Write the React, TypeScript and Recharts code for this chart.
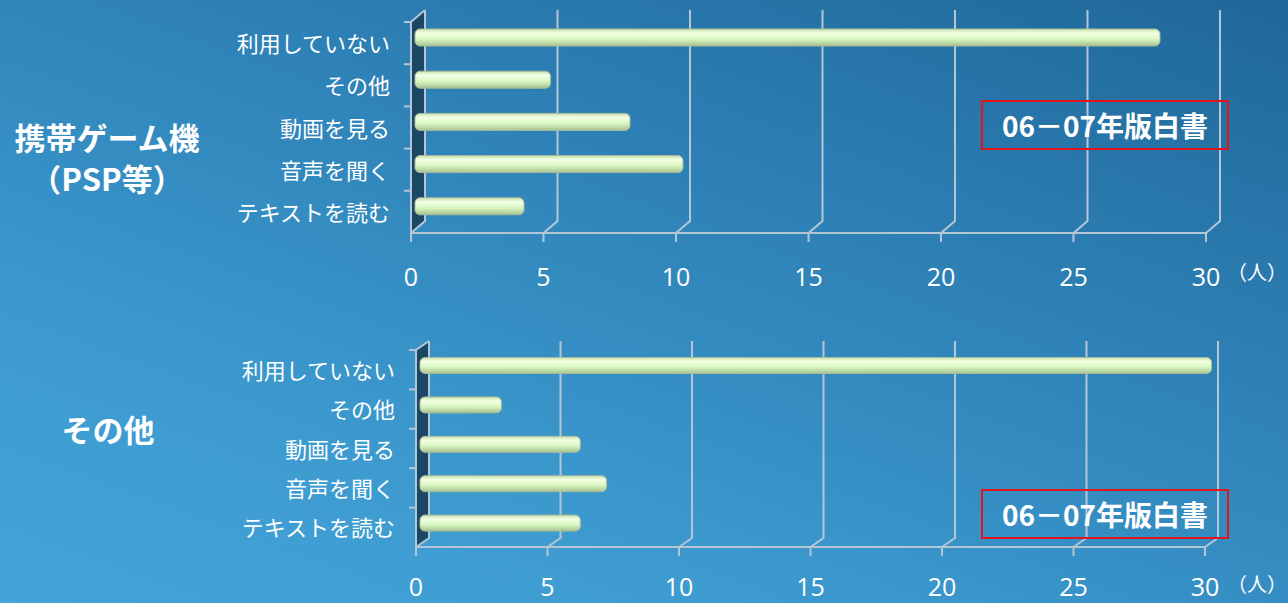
import React from 'react';
import { BarChart, Bar, XAxis, YAxis, CartesianGrid } from 'recharts';

const categories = ['利用していない', 'その他', '動画を見る', '音声を聞く', 'テキストを読む'];
const gameValues = [28, 5, 8, 10, 4];
const otherValues = [30, 3, 6, 7, 6];
const xTicks = [0, 5, 10, 15, 20, 25, 30];

const gameData = categories.map((name, i) => ({ name, value: gameValues[i] }));
const otherData = categories.map((name, i) => ({ name, value: otherValues[i] }));

const LINE = '#b4c6d6';
const FONT = '"Noto Sans CJK JP", "Open Sans", sans-serif';

interface PanelProps {
  data: { name: string; value: number }[];
  top: number;
  height: number;
  plotTop: number;
  plotLeft: number;
  plotRight: number;
  plotBottom: number;
  dx: number;
  dy: number;
  barSize: number;
  labelGap: number;
  gid: string;
}

const Panel: React.FC<PanelProps> = ({
  data, top, height, plotTop, plotLeft, plotRight, plotBottom, dx, dy, barSize, labelGap, gid,
}) => {
  const grid = (p: any) => {
    const { x1, y1, y2 } = p;
    const isLeft = Math.abs(x1 - plotLeft) < 1;
    const band = (y2 - y1) / categories.length;
    return (
      <g key={p.key}>
        {isLeft && (
          <>
            <path
              d={`M${x1},${y1} L${x1 + dx},${y1 + dy} L${x1 + dx},${y2 + dy} L${x1},${y2} Z`}
              fill="#1b4766"
            />
            <path d={`M${x1},${y2} L${x1},${y1} L${x1 + dx},${y1 + dy}`} stroke={LINE} strokeWidth={2} fill="none" />
            {categories.map((_, k) => (
              <line key={k} x1={x1 - 7} x2={x1} y1={y1 + k * band} y2={y1 + k * band} stroke={LINE} strokeWidth={2} />
            ))}
          </>
        )}
        <path
          d={`M${x1},${y2} L${x1 + dx},${y2 + dy} L${x1 + dx},${y1 + dy}`}
          stroke={LINE}
          strokeWidth={2}
          fill="none"
        />
      </g>
    );
  };

  const barShape = (p: any) => {
    const { x, y, width, height: h } = p;
    const bx = x + 4;
    const bw = width + dx / 2 - 4;
    const by = y + dy / 2;
    return (
      <rect x={bx} y={by} width={Math.max(bw, 0)} height={h} rx={5} ry={5} fill={`url(#${gid})`} stroke="#a9b99a" strokeWidth={1} />
    );
  };

  const yTick = (p: any) => (
    <text
      x={plotLeft - 21}
      y={p.y - 1}
      textAnchor="end"
      dominantBaseline="central"
      fill="#ffffff"
      fontSize={22}
      fontFamily={FONT}
    >
      {p.payload.value}
    </text>
  );

  const xTick = (p: any) => (
    <text
      x={p.x}
      y={plotBottom + labelGap}
      textAnchor="middle"
      dominantBaseline="central"
      fill="#ffffff"
      fontSize={25}
      fontFamily='"Open Sans", sans-serif'
    >
      {p.payload.value}
    </text>
  );

  return (
    <div style={{ position: 'absolute', left: 0, top, width: 1288, height }}>
      <BarChart
        width={1288}
        height={height}
        data={data}
        layout="vertical"
        margin={{ top: plotTop, right: 1288 - plotRight, bottom: 0, left: 0 }}
        barSize={barSize}
      >
        <defs>
          <linearGradient id={gid} x1="0" y1="0" x2="0" y2="1">
            <stop offset="0%" stopColor="#c8e2b0" />
            <stop offset="25%" stopColor="#f2ffe4" />
            <stop offset="60%" stopColor="#d8f6bf" />
            <stop offset="100%" stopColor="#a6c293" />
          </linearGradient>
        </defs>
        <CartesianGrid horizontal={false} vertical={grid} />
        <XAxis
          type="number"
          domain={[0, 30]}
          ticks={xTicks}
          interval={0}
          height={height - plotBottom}
          axisLine={{ stroke: LINE, strokeWidth: 2 }}
          tickLine={{ stroke: LINE, strokeWidth: 2 }}
          tickSize={9}
          tick={xTick}
        />
        <YAxis
          type="category"
          dataKey="name"
          width={plotLeft}
          axisLine={false}
          tickLine={false}
          tick={yTick}
          interval={0}
        />
        <Bar dataKey="value" shape={barShape} isAnimationActive={false} />
      </BarChart>
    </div>
  );
};

const sideLabel: React.CSSProperties = {
  position: 'absolute',
  color: '#ffffff',
  fontFamily: FONT,
  fontWeight: 700,
  fontSize: 31,
  lineHeight: 1,
  whiteSpace: 'nowrap',
  transform: 'translate(-50%, -50%)',
};

const boxStyle: React.CSSProperties = {
  position: 'absolute',
  left: 981,
  width: 248,
  height: 50,
  border: '2px solid #e3141c',
  boxSizing: 'border-box',
  color: '#ffffff',
  fontFamily: FONT,
  fontWeight: 700,
  fontSize: 28,
  display: 'flex',
  alignItems: 'center',
  justifyContent: 'center',
  whiteSpace: 'nowrap',
  zIndex: 2,
};

const unitStyle: React.CSSProperties = {
  position: 'absolute',
  left: 1227,
  color: '#ffffff',
  fontFamily: FONT,
  fontSize: 20,
  lineHeight: 1,
  whiteSpace: 'nowrap',
};

export default function App() {
  return (
    <div
      style={{
        position: 'fixed',
        left: 0,
        top: 0,
        width: 1288,
        height: 603,
        overflow: 'hidden',
        background: 'linear-gradient(200deg, #1f6799 0%, #2f83b8 40%, #3d9bd0 75%, #44a3d8 100%)',
      }}
    >
      <Panel
        data={gameData}
        top={0}
        height={300}
        plotTop={22}
        plotLeft={411}
        plotRight={1206}
        plotBottom={233}
        dx={14}
        dy={-12}
        barSize={17}
        labelGap={43}
        gid="barGradA"
      />
      <Panel
        data={otherData}
        top={300}
        height={303}
        plotTop={50}
        plotLeft={416}
        plotRight={1205}
        plotBottom={247}
        dx={13}
        dy={-9}
        barSize={16}
        labelGap={39}
        gid="barGradB"
      />
      <div style={{ ...sideLabel, left: 107, top: 136 }}>携帯ゲーム機</div>
      <div style={{ ...sideLabel, left: 107, top: 177 }}>（PSP等）</div>
      <div style={{ ...sideLabel, left: 108, top: 428 }}>その他</div>
      <div style={{ ...boxStyle, top: 100 }}>06－07年版白書</div>
      <div style={{ ...boxStyle, top: 489 }}>06－07年版白書</div>
      <div style={{ ...unitStyle, top: 262 }}>（人）</div>
      <div style={{ ...unitStyle, top: 574 }}>（人）</div>
    </div>
  );
}
